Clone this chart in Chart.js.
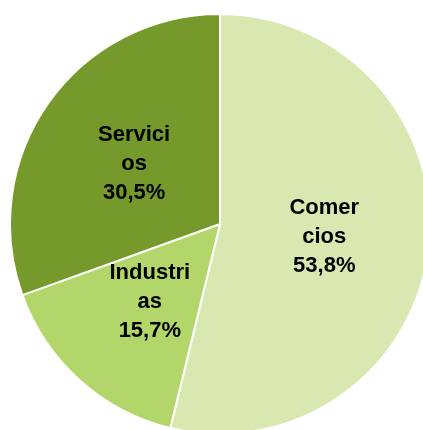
<!DOCTYPE html>
<html>
<head>
<meta charset="utf-8">
<script src="https://cdn.jsdelivr.net/npm/chart.js@4/dist/chart.umd.min.js"></script>
<style>
  html, body { margin: 0; padding: 0; background: #fff; overflow: hidden; width: 423px; height: 430px; }
  #wrap { position: absolute; left: 8.5px; top: 13px; width: 422px; height: 422px; }
</style>
</head>
<body>
<div id="wrap"><canvas id="c" width="422" height="422"></canvas></div>
<script>
const categories = ["Comercios", "Industrias", "Servicios"];
const labelLines = [["Comer", "cios"], ["Industri", "as"], ["Servici", "os"]];
const values = [53.8, 15.7, 30.5];
const colors = ["#d8e8b0", "#b2d66a", "#76992b"];

const labelPlugin = {
  id: "sliceLabels",
  afterDatasetsDraw(chart) {
    const ctx = chart.ctx;
    const meta = chart.getDatasetMeta(0);
    ctx.save();
    ctx.font = "bold 22px 'Liberation Sans', Arial, sans-serif";
    ctx.fillStyle = "#000";
    ctx.textAlign = "center";
    ctx.textBaseline = "middle";
    meta.data.forEach((arc, i) => {
      const p = arc.tooltipPosition();
      const lines = labelLines[i].concat([values[i].toFixed(1).replace(".", ",") + "%"]);
      const lh = 29;
      const start = p.y - (lines.length - 1) * lh / 2;
      lines.forEach((t, k) => ctx.fillText(t, p.x, start + k * lh));
    });
    ctx.restore();
  }
};

new Chart(document.getElementById("c"), {
  type: "pie",
  data: {
    labels: categories,
    datasets: [{
      data: values,
      backgroundColor: colors,
      borderColor: "#ffffff",
      borderWidth: 2
    }]
  },
  options: {
    responsive: false,
    animation: false,
    layout: { padding: 0 },
    plugins: { legend: { display: false }, tooltip: { enabled: false } }
  },
  plugins: [labelPlugin]
});
</script>
</body>
</html>
